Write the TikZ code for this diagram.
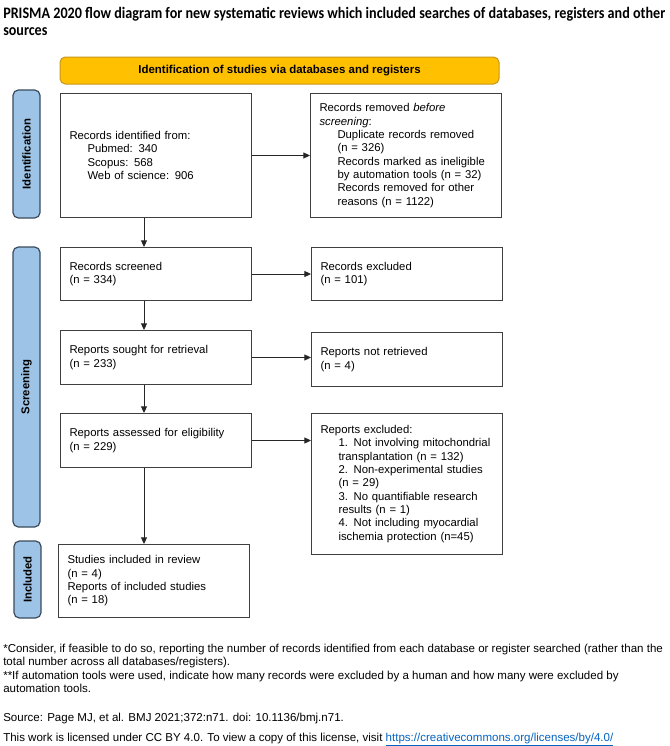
\documentclass[tikz,border=0pt]{standalone}
\usepackage{fontspec}
\usepackage{graphicx}
\setmainfont{Liberation Sans}
\newfontfamily\titlefont{Carlito}
\usetikzlibrary{arrows.meta,calc}
\definecolor{hdrfill}{HTML}{FFC000}
\definecolor{hdrdraw}{HTML}{C8971A}
\definecolor{sidefill}{HTML}{9DC3E6}
\definecolor{sidedraw}{HTML}{3B4B5E}
\definecolor{boxdraw}{HTML}{3F3F3F}
\definecolor{linkblue}{HTML}{0563C1}
\newcommand\fs{\fontsize{8.5}{10}\selectfont}
\newcommand\ind{\hspace*{13.5pt}}
\begin{document}
\begin{tikzpicture}[x=0.75pt,y=-0.75pt,
  box/.style={draw=boxdraw, line width=0.75pt, anchor=north west, inner xsep=6.75pt, inner ysep=0pt, align=left, font=\fs, text width=129.5pt},
  side/.style={draw=sidedraw, fill=sidefill, line width=0.9pt, rounded corners=4pt, rotate=90, minimum height=20.25pt, inner sep=0pt, font=\fs\bfseries},
  hdr/.style={draw=hdrdraw, fill=hdrfill, line width=0.75pt, rounded corners=4pt, minimum width=329.25pt, minimum height=20.25pt, inner sep=0pt, font=\fontsize{8.6}{10}\selectfont\bfseries},
  arr/.style={draw=black!85, line width=0.75pt, -{Triangle[length=5pt,width=4.5pt]}},
  foot/.style={anchor=base west, inner sep=0pt, font=\fontsize{8.65}{10}\selectfont},
  ttl/.style={anchor=base west, inner sep=0pt, font=\titlefont\fontsize{12}{14}\selectfont\bfseries}
]
\useasboundingbox[fill=white] (0,0) rectangle (669,746);

% title
\node[ttl] (t1) at (3,18) {\resizebox{496.5pt}{\height}{PRISMA 2020 flow diagram for new systematic reviews which included searches of databases, registers and other}};
\node[ttl] (t2) at (3,35) {\scalebox{0.88}[1]{sources}};

% header
\node[hdr] (hdr) at (279.5,70.5) {Identification of studies via databases and registers};

% side labels
\node[side, minimum width=96pt] (sid) at (26.5,154) {Identification};
\node[side, minimum width=210pt] (sscr) at (26.5,387) {Screening};
\node[side, minimum width=57.75pt] (sinc) at (27.5,579.5) {Included};

% left column
\node[box, minimum height=93pt] (ident) at (60,93) {Records identified from:\\
\ind Pubmed: 340\\
\ind Scopus: 568\\
\ind Web of science: 906};
\node[box, minimum height=39.75pt] (scr) at (60,247) {Records screened\\(n = 334)};
\node[box, minimum height=40.5pt] (sought) at (60,330) {Reports sought for retrieval\\(n = 233)};
\node[box, minimum height=40.5pt] (assess) at (60,413) {Reports assessed for eligibility\\(n = 229)};
\node[box, minimum height=54.75pt] (incl) at (58,544) {Studies included in review\\(n = 4)\\Reports of included studies\\(n = 18)};

% right column
\node[box, minimum height=93pt] (rem) at (310,93) {Records removed \textit{before}\\\textit{screening}:\\
\ind Duplicate records removed\\
\ind (n = 326)\\
\ind Records marked as ineligible\\
\ind by automation tools (n = 32)\\
\ind Records removed for other\\
\ind reasons (n = 1122)};
\node[box, minimum height=39.75pt] (exc) at (311,247) {Records excluded\\(n = 101)};
\node[box, minimum height=40.5pt] (notret) at (311,332) {Reports not retrieved\\(n = 4)};
\node[box, minimum height=105.75pt] (repexc) at (311,413) {Reports excluded:\\
\ind 1. Not involving mitochondrial\\
\ind transplantation (n = 132)\\
\ind 2. Non-experimental studies\\
\ind (n = 29)\\
\ind 3. No quantifiable research\\
\ind results (n = 1)\\
\ind 4. Not including myocardial\\
\ind ischemia protection (n=45)};

% connectors
\coordinate (sp) at (144,0);
\draw[arr] (ident.east) -- (rem.west |- ident.east);
\draw[arr] (scr.east) -- (exc.west |- scr.east);
\draw[arr] (sought.east) -- (notret.west |- sought.east);
\draw[arr] (assess.east) -- (repexc.west |- assess.east);
\draw[arr] (ident.south -| sp) -- (scr.north -| sp);
\draw[arr] (scr.south -| sp) -- (sought.north -| sp);
\draw[arr] (sought.south -| sp) -- (assess.north -| sp);
\draw[arr] (assess.south -| sp) -- (incl.north -| sp);

% footnotes
\node[foot] (f1) at (3,652) {*Consider, if feasible to do so, reporting the number of records identified from each database or register searched (rather than the};
\node[foot] (f2) at (3,665.5) {total number across all databases/registers).};
\node[foot] (f3) at (3,679) {**If automation tools were used, indicate how many records were excluded by a human and how many were excluded by};
\node[foot] (f4) at (3,692.5) {automation tools.};
\node[foot] (src) at (3,721) {Source: Page MJ, et al. BMJ 2021;372:n71. doi: 10.1136/bmj.n71.};
\node[foot] (lic) at (3,741) {This work is licensed under CC BY 4.0. To view a copy of this license, visit {\color{linkblue}\underline{https://creativecommons.org/licenses/by/4.0/}}};
\end{tikzpicture}
\end{document}
